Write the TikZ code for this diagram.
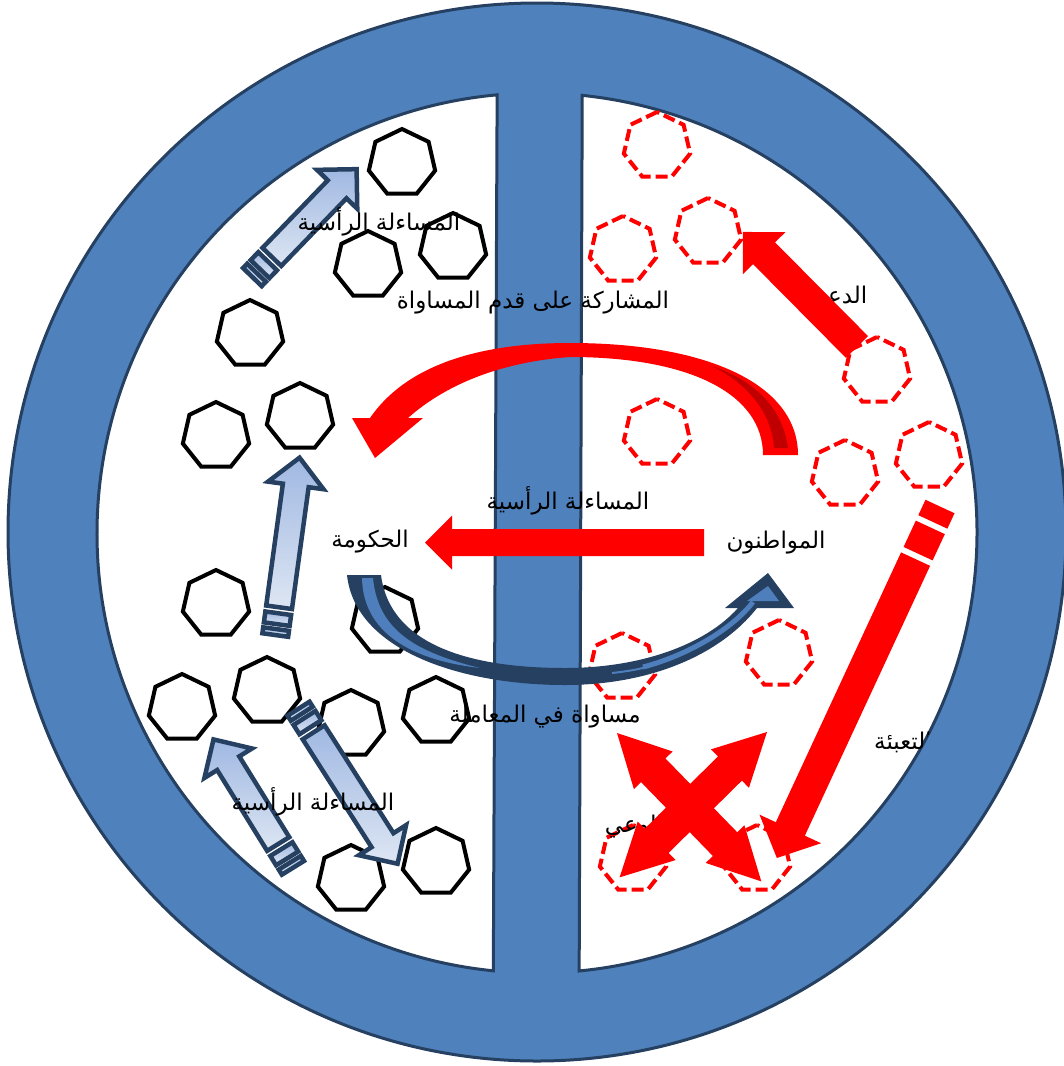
\documentclass[tikz,border=0pt]{standalone}
\usepackage{fontspec}
\newfontfamily\arabicfont[Script=Arabic]{DejaVu Sans}
\TeXXeTstate=1
\usetikzlibrary{shapes.geometric}
\definecolor{ringblue}{HTML}{4F81BD}
\definecolor{darkblue}{HTML}{254061}
\definecolor{lightA}{HTML}{A0B8E2}
\definecolor{lightB}{HTML}{DDE6F3}
\definecolor{darkred}{HTML}{C00000}
\definecolor{midblue}{HTML}{4E7FBC}

\newcommand\blueArrow[4]{%
\begin{scope}[shift={(#1,#2)}, rotate=#3]
\pgfmathsetmacro\Lh{#4-31}\pgfmathsetmacro\Lt{#4-3}
\path[barrow] (30,-13) -- (\Lh,-13) -- (\Lh,-28) -- (\Lt,0) -- (\Lh,28) -- (\Lh,13) -- (30,13) -- cycle;
\path[barrow] (13,-13) rectangle (24,13);
\path[barrow] (2,-13) rectangle (8,13);
\end{scope}}

\newcommand\redArrow[7]{%
\begin{scope}[shift={(#1,#2)}, rotate=#3]
\pgfmathsetmacro\Lh{#4-#7}
\fill[red] (0,-#5) -- (\Lh,-#5) -- (\Lh,-#6) -- (#4,0) -- (\Lh,#6) -- (\Lh,#5) -- (0,#5) -- cycle;
\end{scope}}

\newcommand\redDouble[3]{%
\begin{scope}[shift={(#1,#2)}, rotate=#3]
\fill[red] (0,0) -- (52,-27) -- (52,-17) -- (155,-17) -- (155,-27) -- (207,0) -- (155,27) -- (155,17) -- (52,17) -- (52,27) -- cycle;
\end{scope}}

\begin{document}
\begin{tikzpicture}[x=1pt,y=-1pt,
 hepta/.style={regular polygon, regular polygon sides=7, minimum size=68pt, inner sep=0pt, outer sep=0pt, line width=4pt},
 blackhep/.style={hepta, draw=black},
 redhep/.style={hepta, draw=red, dash pattern=on 12pt off 5pt},
 barrow/.style={draw=darkblue, line width=4.5pt, line join=miter, top color=lightA, bottom color=lightB},
 lbl/.style={font=\arabicfont\fontsize{23}{28}\selectfont, inner sep=0pt, text=black},
 ringline/.style={draw=darkblue, line width=3pt}]
\useasboundingbox (0,0) rectangle (1064,1066);
\fill[white] (0,0) rectangle (1064,1066);

% ring
\path[fill=ringblue, ringline] (537,532) circle[radius=529];
\path[fill=white, ringline] (537,533) ++(95.7:440) arc[start angle=95.7, end angle=264.8, radius=440] -- cycle;
\path[fill=white, ringline] (537,533) ++(-84.1:440) arc[start angle=-84.1, end angle=84.5, radius=440] -- cycle;

% black heptagons
\node[blackhep] (b1) at (402,163) {};
\node[blackhep] (b2) at (368,265) {};
\node[blackhep] (b3) at (453,247) {};
\node[blackhep] (b4) at (250,334) {};
\node[blackhep] (b5) at (216,436) {};
\node[blackhep] (b6) at (300,417) {};
\node[blackhep] (b7) at (216,604) {};
\node[blackhep] (b8) at (385,621) {};
\node[blackhep] (b9) at (182,708) {};
\node[blackhep] (b10) at (267,691) {};
\node[blackhep] (b11) at (351,724) {};
\node[blackhep] (b12) at (436,711) {};
\node[blackhep] (b13) at (351,879) {};
\node[blackhep] (b14) at (436,862) {};

% red dashed heptagons
\node[redhep] (r1) at (657,146) {};
\node[redhep] (r2) at (623,250) {};
\node[redhep] (r3) at (708,232) {};
\node[redhep] (r4) at (877,371) {};
\node[redhep] (r5) at (657,433) {};
\node[redhep] (r6) at (845,474) {};
\node[redhep] (r7) at (929,456) {};
\node[redhep] (r8) at (622,667) {};
\node[redhep] (r9) at (779,654) {};
\node[redhep] (r10) at (633,859) {};
\node[redhep] (r11) at (757,859) {};

% light blue striped arrows
\blueArrow{251}{278.5}{46}{155}
\blueArrow{275}{637}{82.2}{184}
\blueArrow{294}{869.5}{121.75}{156}
\blueArrow{297.5}{707}{-57.45}{189}

% red curved arrow (top)
\fill[red] (798,455) -- (763,455) .. controls (763,394) and (690,357) .. (570,357)
  .. controls (500,362) and (445,385) .. (408,418) -- (423,418) -- (375,458) -- (352,418) -- (370,418)
  .. controls (410,360) and (490,343) .. (570,343) .. controls (711,343) and (798,386) .. (798,455) -- cycle;
\fill[darkred] (712,366) .. controls (750,385) and (772,415) .. (774,448) -- (788,448) .. controls (782,405) and (752,380) .. (712,366) -- cycle;

% blue curved arrow (bottom)
\fill[darkblue] (347,575) -- (381,575) .. controls (390,645) and (470,668) .. (565,668)
  .. controls (640,668) and (705,645) .. (738,608) -- (725,608) -- (768,573) -- (794,608) -- (757,608)
  .. controls (720,655) and (650,685) .. (565,685) .. controls (460,685) and (355,650) .. (347,575) -- cycle;
\fill[midblue] (362,578) -- (373,578) .. controls (378,630) and (415,652) .. (480,668) .. controls (410,660) and (363,632) .. (362,578) -- cycle;
\draw[midblue, line width=2pt] (612,673) .. controls (630,671) and (640,669) .. (650,666);
\draw[midblue, line width=5pt] (643,667) .. controls (682,657) and (730,632) .. (753,602);
\fill[midblue] (747,601) -- (768,586) -- (779,601) -- cycle;

% labels under arrows
\node[lbl] (tdaam) at (840,298) {\beginR الدعم\endR};
\node[lbl] (twaei) at (634,827) {\beginR الوعي\endR};

% red straight arrows
\redArrow{857}{347}{134.75}{162}{15.5}{30}{30}
\redArrow{704}{542.5}{180}{279}{13.5}{27}{27}
\begin{scope}[shift={(940,506.5)}, rotate=-114.9]
\fill[red] (58,-16) -- (355.5,-16) -- (355.5,-34) -- (387.5,0) -- (355.5,34) -- (355.5,16) -- (58,16) -- cycle;
\fill[red] (23,-16) rectangle (52,16);
\fill[red] (0,-16) rectangle (17,16);
\end{scope}
\redDouble{617}{733}{-45.8}
\redDouble{767}{732}{-135.4}

% labels
\node[lbl] (tacc1) at (379,222) {\beginR المساءلة الرأسية\endR};
\node[lbl] (tpart) at (533,303) {\beginR المشاركة على قدم المساواة\endR};
\node[lbl] (tgov) at (370,542) {\beginR الحكومة\endR};
\node[lbl] (tcit) at (776,543) {\beginR المواطنون\endR};
\node[lbl] (tacc2) at (568,501) {\beginR المساءلة الرأسية\endR};
\node[lbl] (tequal) at (545,717) {\beginR مساواة في المعاملة\endR};
\node[lbl] (tacc3) at (313,802) {\beginR المساءلة الرأسية\endR};
\begin{scope}
\clip (537,533) ++(-84.1:440) arc[start angle=-84.1, end angle=84.5, radius=440] -- cycle;
\node[lbl] (tmob) at (903,742) {\beginR التعبئة\endR};
\end{scope}
\end{tikzpicture}
\end{document}
